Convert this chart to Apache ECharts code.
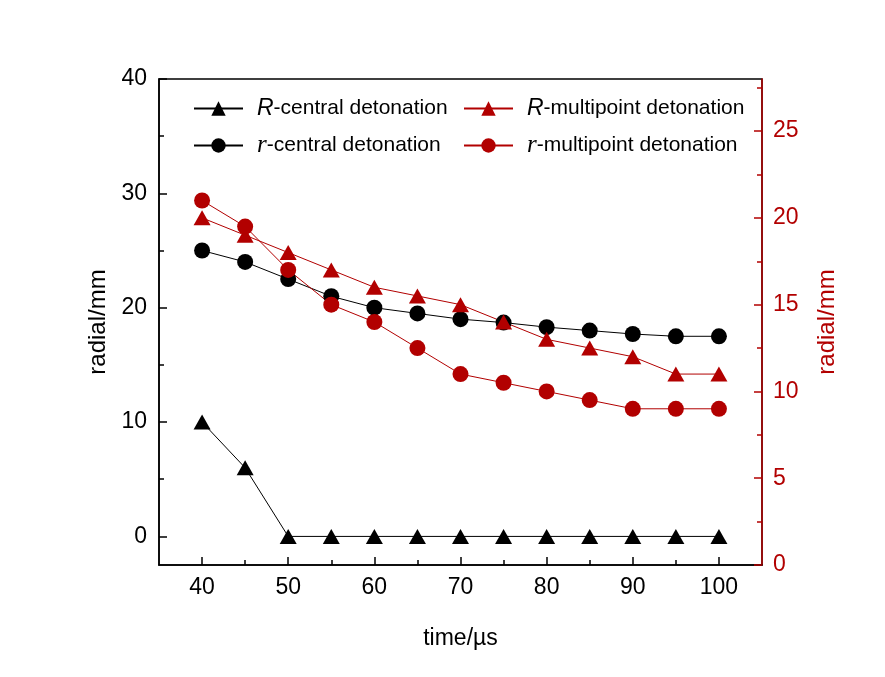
<!DOCTYPE html>
<html>
<head>
<meta charset="utf-8">
<title>radial vs time</title>
<script src="https://cdn.jsdelivr.net/npm/echarts@6/dist/echarts.min.js"></script>
<style>
  html, body { margin: 0; padding: 0; background: #fff; }
  #chart { width: 885px; height: 677px; }
</style>
</head>
<body>
<div id="chart"></div>
<script>
// time axis (µs)
const times = [40, 45, 50, 55, 60, 65, 70, 75, 80, 85, 90, 95, 100];

// left axis series (mm)
const centralR = [10, 6, 0, 0, 0, 0, 0, 0, 0, 0, 0, 0, 0];
const centralSmallR = [25, 24, 22.5, 21, 20, 19.5, 19, 18.7, 18.3, 18, 17.7, 17.5, 17.5];

// right axis series (mm)
const multiR = [20, 19, 18, 17, 16, 15.5, 15, 14, 13, 12.5, 12, 11, 11];
const multiSmallR = [21, 19.5, 17, 15, 14, 12.5, 11, 10.5, 10, 9.5, 9, 9, 9];

// tick positions
const xLabelTicks = [40, 50, 60, 70, 80, 90, 100];
const xMinorTicks = [45, 55, 65, 75, 85, 95];
const leftLabelTicks = [0, 10, 20, 30, 40];
const leftMinorTicks = [5, 15, 25, 35];
const rightLabelTicks = [0, 5, 10, 15, 20, 25];
const rightMinorTicks = [2.5, 7.5, 12.5, 17.5, 22.5, 27.5];

const RED = '#B20000';
const SANS = "'Liberation Sans', Arial, sans-serif";
const SERIF = "'Liberation Serif', 'Times New Roman', serif";

const chart = echarts.init(document.getElementById('chart'));

const pairs = (vals) => times.map((t, i) => [t, vals[i]]);

// italic letter (R sans, r serif) + plain text for the legend
const legendFormatter = (name) => {
  const key = name[0] === 'R' ? 'R' : 'r';
  return `{${key}|${name[0]}}{t|${name.slice(1)}}`;
};
const legendRich = {
  R: { fontFamily: SANS, fontStyle: 'italic', fontSize: 23, padding: [0, 0, 0, 9], color: '#000' },
  r: { fontFamily: SERIF, fontStyle: 'italic', fontSize: 25, padding: [0, 0, 0, 9], color: '#000' },
  t: { fontFamily: SANS, fontSize: 21, color: '#000' }
};

function oneLegend(name, left, top) {
  return {
    data: [name],
    left: left,
    top: top,
    padding: 0,
    itemWidth: 49,
    itemHeight: 18,
    selectedMode: false,
    formatter: legendFormatter,
    textStyle: { rich: legendRich }
  };
}

function minorAxis(base, ticks, color) {
  return Object.assign({}, base, {
    axisLine: { show: false, onZero: false },
    axisLabel: { show: false },
    axisTick: { show: true, inside: true, length: 5, customValues: ticks, lineStyle: { color: color, width: 1.5 } },
    splitLine: { show: false },
    name: ''
  });
}

const xBase = { type: 'value', position: 'bottom', min: 35, max: 105 };
const leftBase = { type: 'value', position: 'left', min: -2.5, max: 40 };
const rightBase = { type: 'value', position: 'right', min: 0, max: 28 };

const option = {
  animation: false,
  backgroundColor: '#fff',
  grid: {
    left: 159, right: 123, top: 79, bottom: 112,
    show: true, borderColor: '#000', borderWidth: 1.5
  },
  legend: [
    oneLegend('R-central detonation', 193, 97),
    oneLegend('r-central detonation', 193, 133),
    oneLegend('R-multipoint detonation', 463, 97),
    oneLegend('r-multipoint detonation', 463, 133)
  ],
  xAxis: [
    Object.assign({}, xBase, {
      name: 'time/µs',
      nameLocation: 'middle',
      nameGap: 62,
      nameTextStyle: { fontFamily: SANS, fontSize: 23, color: '#000' },
      axisLine: { show: true, onZero: false, lineStyle: { color: '#000', width: 1.5 } },
      axisTick: { show: true, inside: true, length: 8, customValues: xLabelTicks, lineStyle: { color: '#000', width: 1.5 } },
      axisLabel: { customValues: xLabelTicks, margin: 11, fontFamily: SANS, fontSize: 23, color: '#000' },
      splitLine: { show: false }
    }),
    minorAxis(xBase, xMinorTicks, '#000')
  ],
  yAxis: [
    Object.assign({}, leftBase, {
      name: 'radial/mm',
      nameLocation: 'middle',
      nameGap: 45,
      nameTextStyle: { fontFamily: SANS, fontSize: 24, color: '#000' },
      axisLine: { show: true, onZero: false, lineStyle: { color: '#000', width: 1.5 } },
      axisTick: { show: true, inside: true, length: 8, customValues: leftLabelTicks, lineStyle: { color: '#000', width: 1.5 } },
      axisLabel: { customValues: leftLabelTicks, margin: 12, fontFamily: SANS, fontSize: 23, color: '#000' },
      splitLine: { show: false }
    }),
    Object.assign({}, rightBase, {
      name: 'radial/mm',
      nameLocation: 'middle',
      nameGap: 53,
      nameTextStyle: { fontFamily: SANS, fontSize: 24, color: RED },
      axisLine: { show: true, onZero: false, lineStyle: { color: RED, width: 1.5 } },
      axisTick: { show: true, inside: true, length: 8, customValues: rightLabelTicks, lineStyle: { color: RED, width: 1.5 } },
      axisLabel: { customValues: rightLabelTicks, margin: 11, fontFamily: SANS, fontSize: 23, color: RED },
      splitLine: { show: false }
    }),
    minorAxis(leftBase, leftMinorTicks, '#000'),
    minorAxis(rightBase, rightMinorTicks, RED)
  ],
  series: [
    {
      name: 'R-central detonation', type: 'line', xAxisIndex: 0, yAxisIndex: 0,
      data: pairs(centralR), symbol: 'triangle', symbolSize: [17, 15],
      itemStyle: { color: '#000' }, lineStyle: { color: '#000', width: 1 }
    },
    {
      name: 'r-central detonation', type: 'line', xAxisIndex: 0, yAxisIndex: 0,
      data: pairs(centralSmallR), symbol: 'circle', symbolSize: 16,
      itemStyle: { color: '#000' }, lineStyle: { color: '#000', width: 1 }
    },
    {
      name: 'R-multipoint detonation', type: 'line', xAxisIndex: 0, yAxisIndex: 1,
      data: pairs(multiR), symbol: 'triangle', symbolSize: [17, 15],
      itemStyle: { color: RED }, lineStyle: { color: RED, width: 1 }
    },
    {
      name: 'r-multipoint detonation', type: 'line', xAxisIndex: 0, yAxisIndex: 1,
      data: pairs(multiSmallR), symbol: 'circle', symbolSize: 16,
      itemStyle: { color: RED }, lineStyle: { color: RED, width: 1 }
    }
  ]
};

chart.setOption(option);
</script>
</body>
</html>
